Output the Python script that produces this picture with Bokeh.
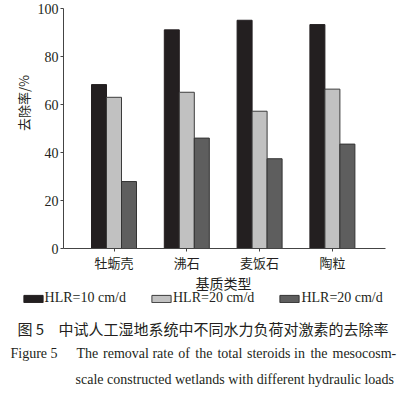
from bokeh.plotting import figure
from bokeh.models import (ColumnDataSource, Range1d, FixedTicker, Label, Legend, LegendItem)
from bokeh.transform import dodge
from bokeh.embed import file_html
from bokeh.resources import INLINE
import math

# ---- data ----
categories = ["牡蛎壳", "沸石", "麦饭石", "陶粒"]
cat_pos = [1, 2, 3, 4]
hlr10 = [68.3, 91.1, 95.1, 93.3]
hlr20a = [63.0, 65.1, 57.2, 66.4]
hlr20b = [27.9, 46.0, 37.4, 43.5]
series_names = ["HLR=10 cm/d", "HLR=20 cm/d", "HLR=20 cm/d"]
y_ticks = [0, 20, 40, 60, 80, 100]
y_title = "去除率/%"
x_title = "基质类型"
cap_cn_num = "图 5"
cap_cn = "中试人工湿地系统中不同水力负荷对激素的去除率"
cap_en_num = "Figure 5"
cap_en1_words = ["The", "removal", "rate", "of", "the", "total", "steroids", "in", "the", "mesocosm-"]
cap_en2 = "scale constructed wetlands with different hydraulic loads"

SERIF = "'Liberation Serif', 'Times New Roman', serif"
CJK = "'Noto Sans CJK SC', sans-serif"

W, H = 401, 394
# layout: pixel <-> data mapping (frame covers the whole canvas)
PX_PER_CAT = 72.8
CAT1_PX = 113.5
Y0_PX, PX_PER_UNIT = 248.0, 2.4
def xd(px):
    return 1 + (px - CAT1_PX) / PX_PER_CAT
def yd(py):
    return (Y0_PX - py) / PX_PER_UNIT

src = ColumnDataSource(dict(x=cat_pos, a=hlr10, b=hlr20a, c=hlr20b))

p = figure(width=W, height=H, output_backend="svg", toolbar_location=None,
           x_range=Range1d(xd(0), xd(W)), y_range=Range1d(yd(H), yd(0)),
           min_border=0, min_border_left=0, min_border_right=0,
           min_border_top=0, min_border_bottom=0)
p.outline_line_color = None
p.xgrid.visible = False
p.ygrid.visible = False
p.background_fill_color = "white"
p.border_fill_color = "white"

bw = 15.0 / PX_PER_CAT
fills = ["#231f20", "#c1c1c1", "#5e5e5e"]
lines = ["#231f20", "#3c3c3c", "#333333"]
cols = ["a", "b", "c"]
offs = [-bw, 0.0, bw]
rs = []
for col, off, fc, lc in zip(cols, offs, fills, lines):
    r = p.vbar(x=dodge("x", off, range=p.x_range), top=col, width=bw, source=src,
               fill_color=fc, line_color=lc, line_width=1)
    rs.append(r)

# axes, fixed inside the frame
for ax in (p.xaxis[0], p.yaxis[0]):
    ax.axis_line_color = "#444444"
    ax.major_tick_line_color = "#444444"
    ax.major_tick_out = 3
    ax.major_tick_in = 0
    ax.minor_tick_out = 0
    ax.minor_tick_in = 0
    ax.major_label_text_color = "#231f20"

p.yaxis.fixed_location = xd(63)
p.yaxis.bounds = (0, 100)
p.yaxis.ticker = FixedTicker(ticks=y_ticks)
p.yaxis.major_label_text_font = SERIF
p.yaxis.major_label_text_font_size = "14px"
p.yaxis.major_label_standoff = 2

p.xaxis.fixed_location = 0
p.xaxis.bounds = (xd(63), xd(385))
p.xaxis.ticker = FixedTicker(ticks=cat_pos)
p.xaxis.major_label_overrides = {c: t for c, t in zip(cat_pos, categories)}
p.xaxis.major_label_text_font = CJK
p.xaxis.major_label_text_font_size = "13px"
p.xaxis.major_label_standoff = 1

def lab(text, px, py, size, font, align="left", angle=0.0, style="normal"):
    p.add_layout(Label(x=xd(px), y=yd(py), text=text, text_font=font,
                       text_font_size=size, text_align=align, text_baseline="middle",
                       angle=angle, text_color="#231f20", text_font_style=style))

lab(y_title, 23, 102.5, "13px", CJK, align="center", angle=math.pi / 2)
lab(x_title, 223, 282, "14px", CJK, align="center")

# legend
items = [LegendItem(label=n, renderers=[r]) for n, r in zip(series_names, rs)]
leg = Legend(items=items, orientation="horizontal", location=(20.6, H - 306),
             glyph_width=24, glyph_height=9, label_standoff=0, spacing=23,
             padding=0, margin=0, border_line_color=None, background_fill_alpha=0,
             label_text_font=SERIF, label_text_font_size="14px", label_height=14,
             label_text_color="#231f20")
p.add_layout(leg, "center")

# captions
lab(cap_cn_num, 17, 328, "15px", CJK)
lab(cap_cn, 58, 328, "15px", CJK)
lab(cap_en_num, 10, 353, "14px", SERIF)
# justified first English line: one label per word
word_x = [76, 102.6, 151.9, 177.7, 194.8, 216.9, 246.5, 293.6, 309.9, 332]
for word, px in zip(cap_en1_words, word_x):
    lab(word, px, 353, "14px", SERIF)
lab(cap_en2, 75, 379, "14px", SERIF)

open("out.html", "w").write(file_html(p, INLINE))
